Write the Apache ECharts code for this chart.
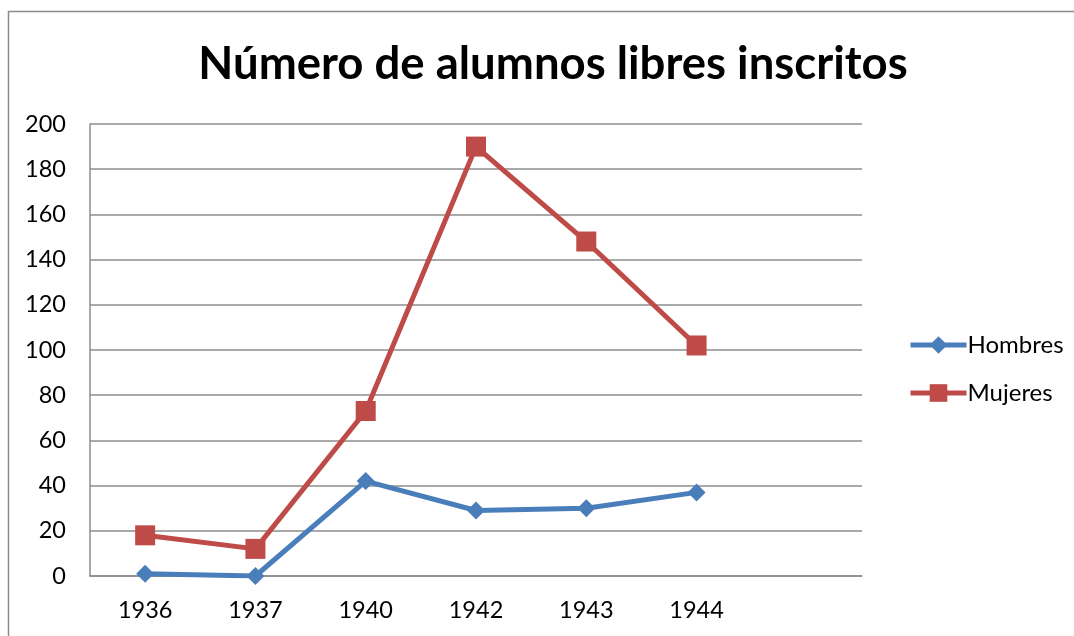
<!DOCTYPE html>
<html>
<head>
<meta charset="utf-8">
<script src="https://cdn.jsdelivr.net/npm/echarts@6/dist/echarts.min.js"></script>
<style>
  html, body { margin: 0; padding: 0; background: #fff; }
  #chart { width: 1074px; height: 636px; }
</style>
</head>
<body>
<div id="chart"></div>
<script>
// Years on the category axis (the trailing blank slot leaves room on the right)
const years = ['1936', '1937', '1940', '1942', '1943', '1944', ''];
// Enrolled free students per year
const hombres = [1, 0, 42, 29, 30, 37];
const mujeres = [18, 12, 73, 190, 148, 102];
const titleText = 'Número de alumnos libres inscritos';

const font = 'Lato, "Open Sans", sans-serif';
const chart = echarts.init(document.getElementById('chart'), null, { renderer: 'canvas' });

chart.setOption({
  animation: false,
  backgroundColor: '#ffffff',
  graphic: [{
    type: 'rect',
    shape: { x: 8.5, y: 11.5, width: 1100, height: 700 },
    style: { fill: 'none', stroke: '#8c8c8c', lineWidth: 1.5 },
    silent: true
  }],
  title: {
    text: titleText,
    left: 548,
    textAlign: 'center',
    top: 36,
    textStyle: { fontFamily: font, fontWeight: 'bold', fontSize: 45.5, color: '#000' }
  },
  grid: { left: 90, top: 124, right: 212, bottom: 60, containLabel: false },
  legend: {
    orient: 'vertical',
    left: 903,
    top: 328,
    itemWidth: 56,
    itemHeight: 22,
    itemGap: 24,
    lineStyle: { width: 5 },
    textStyle: { fontFamily: font, fontSize: 24, color: '#000', padding: [0, 0, 0, -4] },
    data: ['Hombres', 'Mujeres']
  },
  xAxis: {
    type: 'category',
    data: years,
    boundaryGap: true,
    axisLine: { show: true, lineStyle: { color: '#8c8c8c', width: 1.5 } },
    axisTick: { show: false },
    axisLabel: { fontFamily: font, fontSize: 23.5, color: '#000', margin: 22 },
    splitLine: { show: false }
  },
  yAxis: {
    type: 'value',
    min: 0,
    max: 200,
    interval: 20,
    axisLine: { show: true, lineStyle: { color: '#8c8c8c', width: 1.5 } },
    axisTick: { show: false },
    axisLabel: { fontFamily: font, fontSize: 23.5, color: '#000', margin: 24 },
    splitLine: { show: true, lineStyle: { color: '#8c8c8c', width: 1.5 } }
  },
  series: [
    {
      name: 'Hombres',
      type: 'line',
      data: hombres,
      symbol: 'diamond',
      symbolSize: 18,
      showAllSymbol: true,
      lineStyle: { color: '#4a7ebb', width: 5 },
      itemStyle: { color: '#4a7ebb' },
      z: 3
    },
    {
      name: 'Mujeres',
      type: 'line',
      data: mujeres,
      symbol: 'rect',
      symbolSize: 20,
      showAllSymbol: true,
      lineStyle: { color: '#be4b48', width: 5 },
      itemStyle: { color: '#be4b48' },
      z: 2
    }
  ]
});
</script>
</body>
</html>
